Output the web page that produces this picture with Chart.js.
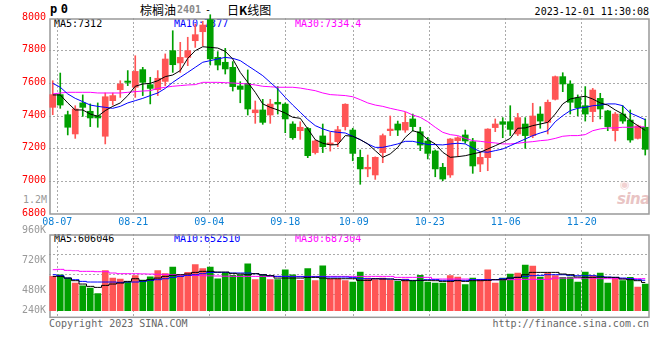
<!DOCTYPE html>
<html>
<head>
<meta charset="utf-8">
<script src="https://cdn.jsdelivr.net/npm/chart.js@4"></script>
<style>
body{margin:0;background:#fff;}
#box{position:relative;width:660px;height:360px;overflow:hidden;background:#fff;}
.t{position:absolute;font:10px "DejaVu Sans Mono",monospace;line-height:12px;white-space:pre;color:#000;}
.cjk{font:12px "Noto Sans CJK SC",sans-serif;line-height:14px;}
.cv{position:absolute;left:0;width:660px;}
</style>
</head>
<body>
<div id="box">
  <div class="t" style="left:50px;top:3px;font-size:12px;font-weight:bold;letter-spacing:3.5px">p0</div>
  <div class="t cjk" style="left:140px;top:3px">棕榈油</div>
  <div class="t" style="left:177px;top:4px;color:#888;font-weight:bold">2401</div>
  <div class="t" style="left:205px;top:4px">-</div>
  <div class="t cjk" style="left:227px;top:3px">日<b>K</b>线图</div>
  <div class="t" style="right:11px;top:6px">2023-12-01 11:30:08</div>

  <div class="t" style="left:54px;top:17.5px">MA5:7312</div>
  <div class="t" style="left:174px;top:17.5px;color:#0000ff">MA10:7377</div>
  <div class="t" style="left:295px;top:17.5px;color:#ff00ff">MA30:7334.4</div>
  <div class="t" style="left:23px;top:194px;color:#999">1.2M</div>
  <div style="position:absolute;left:620px;top:178px;font:bold 11px 'DejaVu Sans',sans-serif;color:#f2d2d2">◉</div>
  <div style="position:absolute;left:617px;top:190px;font:italic bold 15px 'DejaVu Sans',sans-serif;color:#e9c4c4;letter-spacing:-0.5px">sina</div>

  <div class="t" style="left:54px;top:232.5px">MA5:606046</div>
  <div class="t" style="left:174px;top:232.5px;color:#0000ff">MA10:652510</div>
  <div class="t" style="left:295px;top:232.5px;color:#ff00ff">MA30:687304</div>

  <div class="t" style="left:49px;top:317.5px;color:#666">Copyright 2023 SINA.COM</div>
  <div class="t" style="right:11px;top:318px;color:#666">http://finance.sina.com.cn</div>

  <div class="cv" style="top:0;height:228px"><canvas id="kChart"></canvas></div>
  <div class="cv" style="top:222px;height:138px"><canvas id="volChart"></canvas></div>
</div>

<script>
// day index of each date tick (0 = 08-04), and its label
const tickDays = [1, 11, 21, 31, 40, 50, 60, 70];
const tickLabels = ["08-07", "08-21", "09-04", "09-18", "10-09", "10-23", "11-06", "11-20"];
const priceTicks = [6800, 7000, 7200, 7400, 7600, 7800, 8000];
const volAxisLabels = ["240K", "480K", "720K", "960K"];

const open = [7453,7531,7408,7290,7480,7429,7402,7276,7494,7561,
  7614,7576,7684,7592,7561,7612,7800,7725,7759,7861,
  7916,7990,7759,7729,7698,7584,7600,7420,7437,7406,
  7484,7473,7351,7310,7324,7176,7278,7225,7243,7335,
  7314,7147,7076,7039,7176,7310,7351,7314,7382,7304,
  7247,7186,7086,7039,7249,7284,7243,7106,7145,7329,
  7365,7365,7290,7351,7280,7412,7361,7502,7641,7596,
  7512,7463,7427,7508,7431,7310,7412,7375,7263,7331];
const close = [7531,7467,7331,7443,7453,7388,7388,7518,7525,7596,
  7606,7673,7606,7569,7631,7749,7714,7759,7800,7898,
  7957,7750,7712,7688,7580,7563,7443,7437,7361,7473,
  7473,7382,7267,7331,7157,7247,7212,7235,7316,7472,
  7171,7076,7086,7147,7280,7320,7314,7361,7335,7222,
  7171,7076,7014,7259,7267,7247,7094,7147,7320,7351,
  7349,7318,7390,7280,7400,7369,7484,7641,7596,7484,
  7451,7412,7559,7443,7335,7412,7369,7253,7339,7196];
const high = [7616,7663,7430,7463,7529,7474,7480,7541,7541,7616,
  7678,7769,7698,7637,7678,7780,7922,7851,7882,7963,
  7980,8020,7794,7814,7733,7610,7682,7492,7502,7502,
  7580,7480,7365,7365,7330,7253,7351,7300,7337,7475,
  7325,7192,7161,7150,7290,7400,7369,7422,7412,7331,
  7269,7192,7110,7262,7273,7314,7263,7178,7322,7382,
  7390,7463,7416,7390,7478,7457,7498,7645,7665,7616,
  7529,7580,7569,7539,7435,7422,7463,7437,7345,7382];
const low = [7408,7447,7284,7263,7398,7335,7331,7229,7467,7514,
  7586,7514,7525,7474,7525,7586,7667,7667,7708,7820,
  7830,7712,7682,7657,7553,7481,7406,7355,7349,7355,
  7412,7298,7257,7257,7145,7167,7176,7185,7212,7314,
  7126,6982,7028,7012,7114,7280,7280,7300,7308,7188,
  7137,7028,7004,7024,7151,7233,7049,7059,7065,7304,
  7267,7280,7280,7202,7267,7325,7290,7498,7549,7412,
  7402,7369,7365,7382,7310,7247,7355,7239,7259,7161];

const ma5 = [7529,7529,7480,7437,7437,7412,7398,7433,7459,7480,
  7525,7582,7596,7600,7616,7641,7651,7678,7753,7800,
  7824,7820,7816,7796,7749,7667,7606,7545,7474,7453,
  7437,7418,7392,7386,7321,7255,7233,7223,7225,7280,
  7276,7255,7229,7188,7147,7168,7208,7269,7310,7296,
  7255,7229,7178,7147,7151,7157,7168,7178,7198,7218,
  7239,7263,7325,7327,7341,7351,7361,7412,7474,7504,
  7514,7521,7504,7480,7467,7437,7412,7372,7341,7312];
const ma10 = [7600,7576,7535,7508,7488,7467,7459,7453,7447,7459,
  7480,7494,7508,7525,7541,7569,7606,7637,7667,7698,
  7729,7739,7749,7759,7753,7739,7708,7678,7647,7606,
  7565,7514,7467,7423,7378,7341,7321,7306,7300,7296,
  7276,7255,7229,7208,7208,7218,7229,7245,7245,7235,
  7225,7225,7223,7229,7233,7229,7204,7182,7178,7188,
  7198,7218,7239,7259,7280,7296,7310,7365,7402,7433,
  7447,7453,7463,7467,7474,7474,7463,7418,7398,7377];
const ma30 = [7535,7541,7545,7545,7545,7545,7541,7541,7541,7541,
  7545,7549,7553,7555,7569,7576,7582,7586,7590,7592,
  7606,7606,7606,7604,7602,7599,7596,7590,7582,7579,
  7576,7576,7576,7571,7563,7555,7541,7531,7528,7525,
  7518,7500,7480,7467,7459,7447,7437,7427,7406,7392,
  7365,7331,7300,7286,7280,7263,7249,7245,7239,7235,
  7229,7229,7233,7239,7243,7249,7253,7263,7276,7280,
  7280,7286,7310,7321,7327,7327,7331,7331,7333,7334];

// volumes in thousands of lots
const volK = [736,772,700,593,536,486,365,858,700,679,
  615,751,658,729,858,794,937,751,822,987,
  901,937,686,808,758,772,1008,665,758,665,
  665,879,772,651,901,644,965,679,686,644,
  615,829,700,665,700,651,629,679,629,758,
  615,593,593,751,722,558,700,665,879,593,
  700,787,808,980,958,722,808,751,715,722,
  615,829,751,808,593,700,644,715,508,572];
const vma5K = [736,736,700,644,572,522,500,543,572,593,
  629,686,644,665,700,736,758,772,787,822,
  844,844,829,829,801,787,772,794,772,751,
  700,700,700,700,715,715,700,686,686,686,
  686,651,651,686,679,679,665,644,644,651,
  651,644,629,629,644,629,644,644,651,665,
  665,700,715,772,822,822,822,822,787,772,
  722,715,715,722,715,715,679,665,644,606];
const vma10K = [772,751,700,665,629,615,615,615,615,608,
  615,615,629,651,665,686,715,736,758,772,
  794,822,822,822,808,808,808,794,772,751,
  736,736,729,729,729,729,729,722,722,722,
  715,686,686,686,686,679,665,665,651,651,
  665,665,651,651,651,651,665,665,665,665,
  686,700,715,736,751,758,772,772,772,758,
  751,751,751,736,722,715,700,686,665,653];
const vma30K = [880,887,865,858,844,844,837,837,808,794,
  794,794,790,786,782,779,772,765,758,755,
  751,748,744,740,738,736,736,736,736,736,
  736,736,736,736,736,736,736,736,736,736,
  736,736,736,736,736,736,715,715,715,715,
  715,679,679,679,679,679,665,665,665,665,
  665,665,672,672,672,672,672,700,700,700,
  700,700,700,687,687,687,687,687,687,687];

const FONT = "DejaVu Sans Mono";
const UP = "#ff5555", DOWN = "#00a000";
const GRID = "#aaaaaa";
const candleColor = open.map((o, i) => close[i] >= o ? UP : DOWN);

// Sina's date grid runs at 7.6px per day while candles sit 7.5px apart
const gridX = k => (7.6 * k + 0.7) / 7.5 - 0.5;

const VPP = 21450; // volume per pixel in the lower panel
const volLabelRise = [0.4, 20.7, 49.9, 80.4];
const volGridRise = [16, 36, 56];

const frame = {
  id: "frame",
  beforeDatasetsDraw(chart) {
    const a = chart.chartArea, ctx = chart.ctx;
    ctx.save();
    ctx.strokeStyle = "#999";
    ctx.lineWidth = 1.5;
    ctx.strokeRect(a.left + 1, a.top + 1, a.right - a.left - 1, a.bottom - a.top - 1);
    ctx.restore();
  }
};

function noPad(s) {
  s.paddingTop = 0; s.paddingBottom = 0; s.paddingLeft = 0; s.paddingRight = 0;
}

function xScale(showLabels) {
  return {
    type: "linear", min: -0.5, max: 79.5, offset: false, bounds: "data",
    afterBuildTicks: s => { s.ticks = tickDays.map(k => ({value: gridX(k)})); },
    afterFit: s => { s.height = showLabels ? 14 : 0; noPad(s); },
    ticks: {
      display: showLabels, autoSkip: false, maxRotation: 0, padding: 2,
      color: "#0b7fd4", font: {family: FONT, size: 10},
      callback: (v, i) => tickLabels[i]
    },
    grid: {offset: false, color: GRID, drawTicks: false},
    border: {display: false, dash: [2, 2]}
  };
}

const line = (data, color, extra) => Object.assign({
  type: "line", data: data.map((v, i) => ({x: i, y: v})),
  borderColor: color, borderWidth: 1, pointRadius: 0, tension: 0, order: 0
}, extra || {});

new Chart(document.getElementById("kChart"), {
  type: "bar",
  data: {
    datasets: [
      line(ma5, "#000000"),
      line(ma10, "#0000ff"),
      line(ma30, "#ff00ff"),
      {
        type: "bar", data: open.map((o, i) => ({x: i, y: [o, close[i]]})),
        backgroundColor: candleColor, barThickness: 6, minBarLength: 1,
        grouped: false, order: 1, clip: false
      },
      {
        type: "bar", data: low.map((l, i) => ({x: i, y: [l, high[i]]})),
        backgroundColor: candleColor, barThickness: 1,
        grouped: false, order: 2, clip: false
      }
    ]
  },
  options: {
    responsive: true, maintainAspectRatio: false, animation: false, events: [],
    layout: {padding: {left: 0, right: 11, top: 18, bottom: 0}},
    plugins: {legend: {display: false}, tooltip: {enabled: false}},
    scales: {
      x: xScale(true),
      y: {
        min: 6800, max: 8000,
        afterBuildTicks: s => { s.ticks = priceTicks.map(v => ({value: v})); },
        afterFit: s => { s.width = 49; noPad(s); },
        ticks: {
          padding: 3, labelOffset: -1, color: "#ff0000", autoSkip: false,
          font: {family: FONT, size: 10},
          callback: v => String(v)
        },
        grid: {
          drawTicks: false,
          color: ctx => (ctx.tick && (ctx.tick.value === 8000 || ctx.tick.value === 6800)) ? "rgba(0,0,0,0)" : GRID
        },
        border: {display: false, dash: [2, 2]}
      }
    }
  },
  plugins: [frame]
});

new Chart(document.getElementById("volChart"), {
  type: "bar",
  data: {
    datasets: [
      line(vma5K.map(v => v * 1000), "#000000", {stepped: "middle"}),
      line(vma10K.map(v => v * 1000), "#0000ff", {stepped: "middle"}),
      line(vma30K.map(v => v * 1000), "#ff00ff", {stepped: "middle"}),
      {
        type: "bar", data: volK.map((v, i) => ({x: i, y: v * 1000})),
        backgroundColor: candleColor, barThickness: 6, grouped: false, order: 1
      }
    ]
  },
  options: {
    responsive: true, maintainAspectRatio: false, animation: false, events: [],
    layout: {padding: {left: 0, right: 11, top: 12, bottom: 42.7}},
    plugins: {legend: {display: false}, tooltip: {enabled: false}},
    scales: {
      x: xScale(false),
      y: {
        min: -6.6 * VPP, max: 76.7 * VPP,
        afterBuildTicks: s => {
          s.ticks = volLabelRise.concat(volGridRise).map(r => ({value: r * VPP}));
        },
        afterFit: s => { s.width = 49; noPad(s); },
        ticks: {
          padding: 3, color: "#999999", autoSkip: false,
          font: {family: FONT, size: 10},
          callback: (v, i) => i < volAxisLabels.length ? volAxisLabels[i] : ""
        },
        grid: {
          drawTicks: false,
          color: ctx => ctx.index < volAxisLabels.length ? "rgba(0,0,0,0)" : GRID
        },
        border: {display: false, dash: [2, 2]}
      }
    }
  },
  plugins: [frame]
});
</script>
</body>
</html>
